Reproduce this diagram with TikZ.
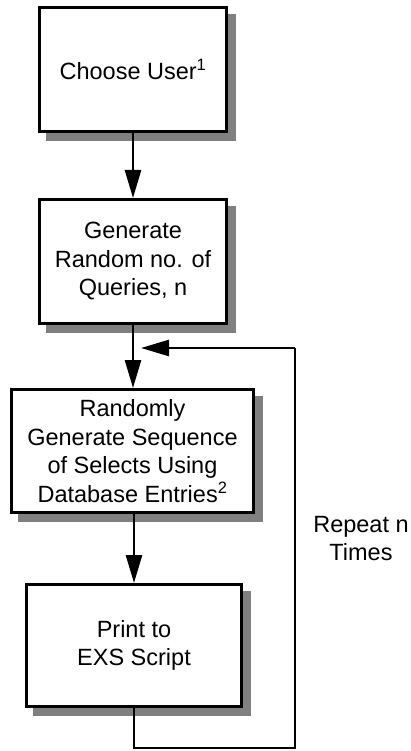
\documentclass[tikz,border=0pt]{standalone}
\usepackage{fontspec}
\setmainfont{Liberation Sans}
\usetikzlibrary{arrows.meta,backgrounds}
\begin{document}
\begin{tikzpicture}[x=1pt,y=-1pt,
  box/.style={draw=black,line width=3pt,fill=white,rectangle,inner sep=0pt,
    align=center,font=\fontsize{23.5}{28.5}\selectfont},
  shade/.style={fill=black!50},
  arr/.style={draw=black,line width=2.6pt,-{Triangle[length=28pt,width=16pt]}},
  conn/.style={draw=black,line width=2.6pt},
  lbl/.style={inner sep=0pt,align=center,font=\fontsize{23.5}{28.5}\selectfont}]
\useasboundingbox (0,0) rectangle (411,751);

\node[box,minimum width=187pt,minimum height=124pt] (b1) at (133,69.5) {Choose User\textsuperscript{1}};
\node[box,minimum width=187pt,minimum height=124pt] (b2) at (133,261.5) {Generate\\Random no. of\\Queries, n};
\node[box,minimum width=242pt,minimum height=123pt] (b3) at (132.5,451) {Randomly\\Generate Sequence\\of Selects Using\\Database Entries\textsuperscript{2}};
\node[box,minimum width=215pt,minimum height=122pt] (b4) at (134,645.5) {Print to\\EXS Script};

\begin{scope}[on background layer]
  \foreach \b in {b1,b2,b3,b4}{
    \fill[shade] ([shift={(8pt,-8pt)}]\b.south west) rectangle ([shift={(8pt,-8pt)}]\b.north east);
  }
\end{scope}

\node[lbl] (rep) at (361,538.5) {Repeat n\\Times};

\coordinate (loopbr) at (295,748);
\coordinate (looptr) at (295,348);
\coordinate (loopend) at (141,348);

\draw[arr] (b1.south) -- (b2.north);
\draw[arr] (b2.south) -- (b2.south |- b3.north);
\draw[arr] (b3.south -| b4.north) -- (b4.north);
\draw[conn] (b4.south) |- (loopbr) -- (looptr);
\draw[arr] (looptr) -- (loopend);
\end{tikzpicture}
\end{document}
